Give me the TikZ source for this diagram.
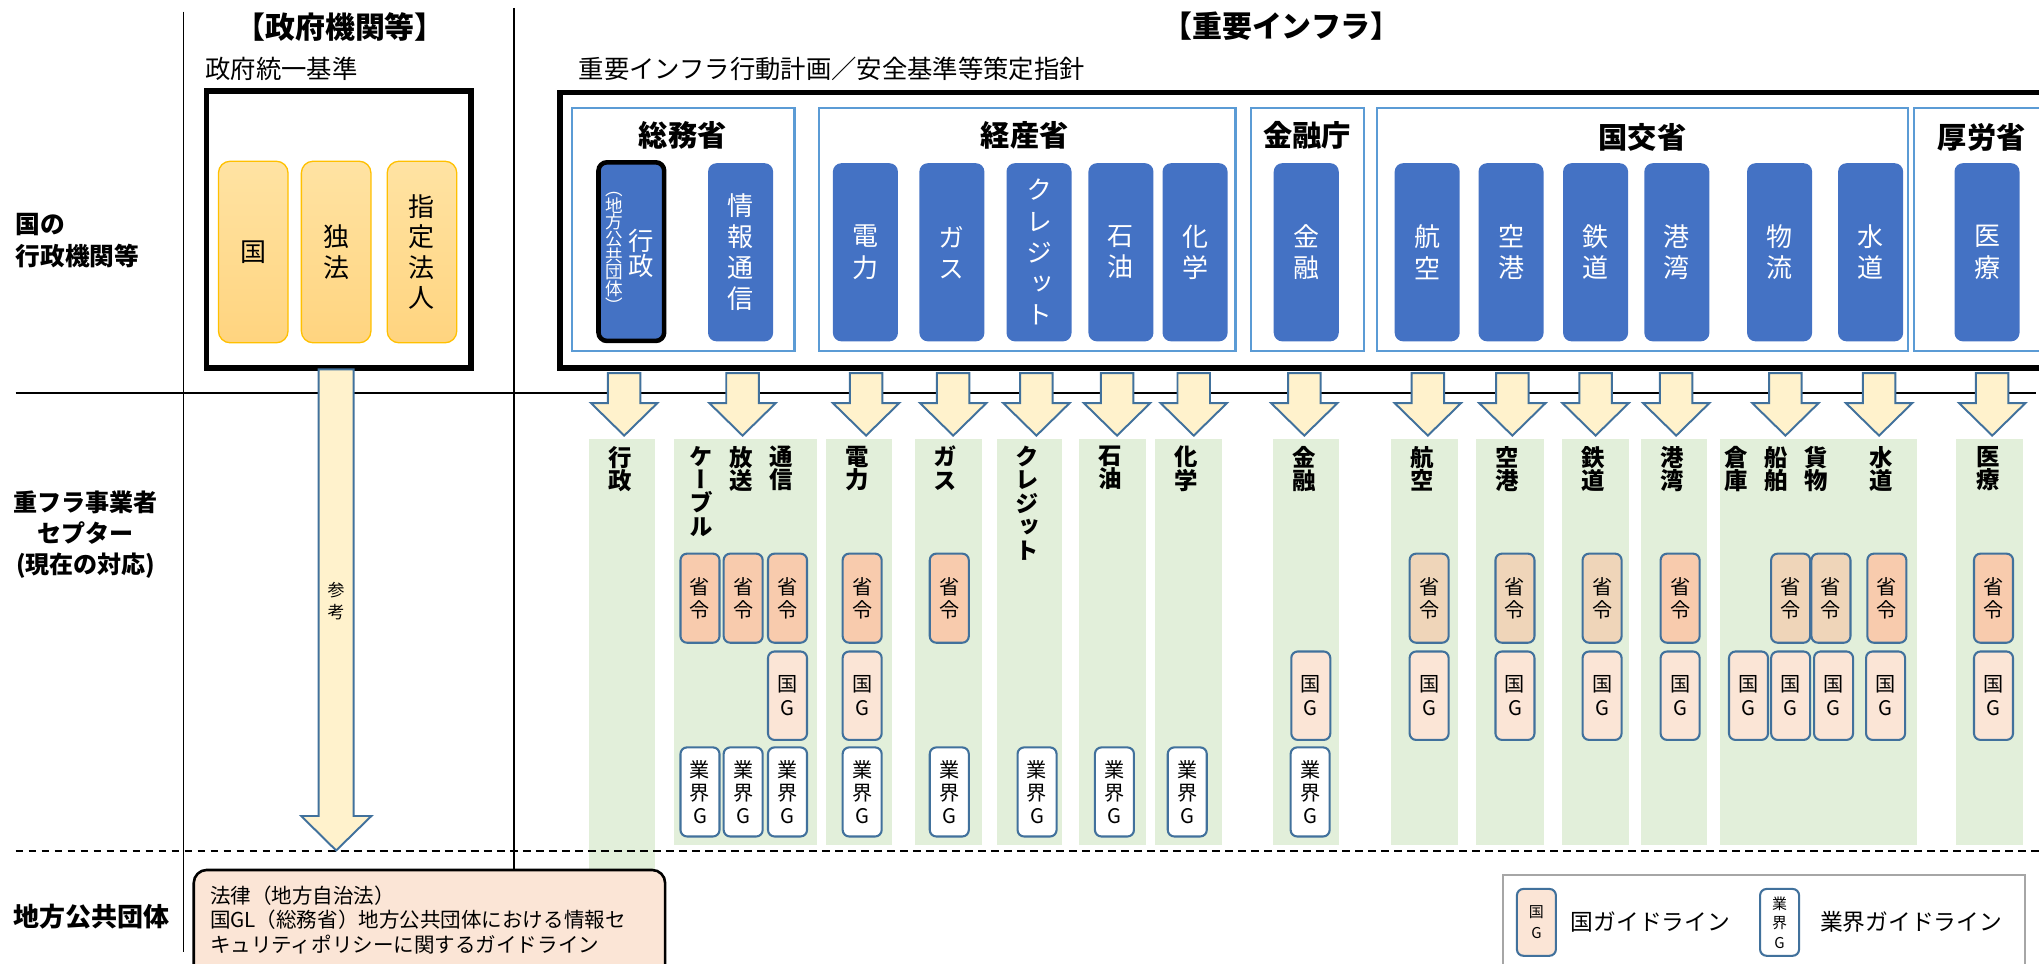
\documentclass[tikz,border=0pt]{standalone}
\usepackage{fontspec}
\setmainfont{Noto Sans CJK JP}
\newfontfamily\vjp{Noto Sans CJK JP}[RawFeature=+vert]
\definecolor{blueC}{HTML}{4472C4}
\definecolor{minC}{HTML}{5B9BD5}
\definecolor{arrF}{HTML}{FFF2CC}
\definecolor{arrD}{HTML}{41719C}
\definecolor{grnC}{HTML}{E2EFDA}
\definecolor{shoC}{HTML}{F8CBAD}
\definecolor{shoT}{HTML}{EFD5B9}
\definecolor{kokC}{HTML}{FBE5D6}
\definecolor{orgT}{HTML}{FFE3A3}
\definecolor{orgB}{HTML}{FFD47F}
\definecolor{orgD}{HTML}{FFC000}
\definecolor{legD}{HTML}{A6A6A6}
\newcommand\gcol[2]{\fill[grnC] (#1,337.5) rectangle (#2,650);}
\newcommand\barr[1]{\draw[blockarr] ({#1-12.5},287) -- ({#1+12.5},287) -- ({#1+12.5},310) -- ({#1+25.5},310) -- (#1,335) -- ({#1-25.5},310) -- ({#1-12.5},310) -- cycle;}
\begin{document}
\begin{tikzpicture}[x=1pt,y=-1pt,
  every node/.style={inner sep=0pt, outer sep=0pt},
  bluebox/.style={fill=blueC, rounded corners=6.5pt, minimum width=50pt, minimum height=137pt, text=white, align=center, font=\vjp\fontsize{20}{24}\selectfont},
  minbox/.style={draw=minC, line width=1.8pt, minimum height=187pt},
  orgbox/.style={top color=orgT, bottom color=orgB, draw=orgD, line width=1pt, rounded corners=9pt, minimum width=53.5pt, minimum height=139.6pt, align=center, font=\vjp\fontsize{20}{23.5}\selectfont},
  blockarr/.style={fill=arrF, draw=arrD, line width=1.5pt, line join=miter},
  sbox/.style={draw=arrD, line width=1.6pt, rounded corners=5pt, minimum width=30pt, align=center, font=\fontsize{15.5}{18}\selectfont},
  shorei/.style={sbox, fill=shoC, minimum height=68.5pt, font=\fontsize{15.5}{17.3}\selectfont},
  shoreiT/.style={shorei, fill=shoT},
  kokug/.style={sbox, fill=kokC, minimum height=68pt, font=\fontsize{15.5}{18.3}\selectfont},
  gyog/.style={sbox, fill=white, minimum height=68.5pt, font=\fontsize{15.5}{17.8}\selectfont},
  clab/.style={anchor=north, align=center, font=\vjp\bfseries\fontsize{18}{18}\selectfont},
  mtitle/.style={font=\bfseries\fontsize{22.5}{24}\selectfont},
  head/.style={font=\bfseries\fontsize{23}{26}\selectfont},
  sub/.style={anchor=west, font=\fontsize{19.5}{22}\selectfont},
  rowlab/.style={font=\bfseries\fontsize{19}{24.5}\selectfont}
]
\useasboundingbox (0,0) rectangle (1568,741);
\clip (0,0) rectangle (1568,741);

% green columns
\fill[grnC] (453,337.5) rectangle (504,668);
\gcol{518}{628}\gcol{635}{686}\gcol{704}{755}\gcol{767}{817}\gcol{830}{881}\gcol{888}{940}
\gcol{979}{1030}\gcol{1070}{1121}\gcol{1135}{1187}\gcol{1201}{1253}\gcol{1262}{1313}
\gcol{1323}{1474}\gcol{1504}{1556}

% grid lines
\draw[line width=1.3pt] (141,9) -- (141,732);
\draw[line width=1.3pt] (395.5,6) -- (395.5,669);
\draw[line width=1.3pt] (12,302) -- (1566,302);
\draw[line width=1.5pt, dash pattern=on 6pt off 4pt] (12,654.5) -- (1568,654.5);

% headings
\node[head] (hGov) at (261.5,20.5) {【政府機関等】};
\node[head] (hInfra) at (985.5,20) {【重要インフラ】};
\node[sub] (sGov) at (158,52.6) {政府統一基準};
\node[sub] (sInfra) at (445,52.6) {重要インフラ行動計画／安全基準等策定指針};

% row labels
\node[rowlab, anchor=west, align=left] (rNat) at (12,185) {国の\\行政機関等};
\node[rowlab, align=center, font=\bfseries\fontsize{18.5}{24}\selectfont] (rSec) at (66,411) {重フラ事業者\\セプター\\(現在の対応)};
\node[rowlab, anchor=west, font=\bfseries\fontsize{20}{24}\selectfont] (rLoc) at (10,705) {地方公共団体};

% government box
\draw[line width=4.5pt] (158.8,70) rectangle (362.3,283);
\node[orgbox] (oKuni) at (194.75,193.8) {国};
\node[orgbox] (oDoku) at (258.5,193.8) {独\\法};
\node[orgbox] (oShitei) at (324.5,193.8) {指\\定\\法\\人};

% infra big box
\draw[line width=4pt] (430.7,71) rectangle (1600,283);
\node[minbox, minimum width=171pt] (mSomu) at (525.5,176.5) {};
\node[minbox, minimum width=320pt] (mKeisan) at (790,176.5) {};
\node[minbox, minimum width=87pt] (mKinyu) at (1005.5,176.5) {};
\node[minbox, minimum width=408pt] (mKokko) at (1263,176.5) {};
\node[minbox, minimum width=128pt] (mKoro) at (1536,176.5) {};
\node[mtitle] (tSomu) at (525,104) {総務省};
\node[mtitle] (tKeisan) at (788,104) {経産省};
\node[mtitle] (tKinyu) at (1005,104) {金融庁};
\node[mtitle] (tKokko) at (1263,106) {国交省};
\node[mtitle] (tKoro) at (1524,106) {厚労省};

% blue boxes
\node[bluebox, draw=black, line width=3.5pt, minimum width=50.5pt, minimum height=137.4pt] (bGyosei) at (485.5,193.5) {};
\node[text=white, align=center, font=\vjp\fontsize{19.5}{19.2}\selectfont] (bGyoseiT) at (493,195) {行\\政};
\node[text=white, align=center, font=\vjp\fontsize{13.5}{12.8}\selectfont] (bChihoT) at (472,194) {（\\地\\方\\公\\共\\団\\体\\）};
\node[bluebox] (bJoho) at (569.5,194) {情\\報\\通\\信};
\node[bluebox] (bDenryoku) at (665.5,194) {電\\力};
\node[bluebox] (bGas) at (732,194) {ガ\\ス};
\node[bluebox] (bCredit) at (799,194) {ク\\レ\\ジ\\ッ\\ト};
\node[bluebox] (bSekiyu) at (862,194) {石\\油};
\node[bluebox] (bKagaku) at (919,194) {化\\学};
\node[bluebox] (bKinyu) at (1004.5,194) {金\\融};
\node[bluebox] (bKoku) at (1097.5,194) {航\\空};
\node[bluebox] (bKuko) at (1162,194) {空\\港};
\node[bluebox] (bTetsudo) at (1227,194) {鉄\\道};
\node[bluebox] (bKowan) at (1289.5,194) {港\\湾};
\node[bluebox] (bButsuryu) at (1368.5,194) {物\\流};
\node[bluebox] (bSuido) at (1438.5,194) {水\\道};
\node[bluebox] (bIryo) at (1528,194) {医\\療};

% block arrows
\barr{480}\barr{571}\barr{666}\barr{733}\barr{797}\barr{859}\barr{918}\barr{1003}
\barr{1098}\barr{1163}\barr{1227}\barr{1289}\barr{1373}\barr{1445}\barr{1532}
\draw[blockarr] (245,284) -- (272,284) -- (272,627.5) -- (285.6,627.5) -- (258.5,654) -- (231.6,627.5) -- (245,627.5) -- cycle;
\node[align=center, font=\fontsize{13}{17}\selectfont] (sanko) at (258.5,462.5) {参\\考};

% column labels
\node[clab] (lGyosei) at (477,343) {行\\政};
\node[clab] (lCable) at (539,343) {ケ\\ー\\ブ\\ル};
\node[clab] (lHoso) at (570,343) {放\\送};
\node[clab] (lTsushin) at (601,343) {通\\信};
\node[clab] (lDenryoku) at (659,343) {電\\力};
\node[clab] (lGas) at (727,343) {ガ\\ス};
\node[clab] (lCredit) at (790,343) {ク\\レ\\ジ\\ッ\\ト};
\node[clab] (lSekiyu) at (853.5,343) {石\\油};
\node[clab] (lKagaku) at (912,343) {化\\学};
\node[clab] (lKinyu) at (1003,343) {金\\融};
\node[clab] (lKoku) at (1094,343) {航\\空};
\node[clab] (lKuko) at (1159,343) {空\\港};
\node[clab] (lTetsudo) at (1225,343) {鉄\\道};
\node[clab] (lKowan) at (1286,343) {港\\湾};
\node[clab] (lSoko) at (1335,343) {倉\\庫};
\node[clab] (lSenpaku) at (1366,343) {船\\舶};
\node[clab] (lKamotsu) at (1397,343) {貨\\物};
\node[clab] (lSuido) at (1447,343) {水\\道};
\node[clab] (lIryo) at (1529,343) {医\\療};

% 省令 boxes
\node[shorei] (sCable) at (538.3,460) {省\\令};
\node[shorei] (sHoso) at (571.5,460) {省\\令};
\node[shorei] (sTsushin) at (605.6,460) {省\\令};
\node[shorei] (sDenryoku) at (663,460) {省\\令};
\node[shorei] (sGas) at (730,460) {省\\令};
\node[shoreiT] (sKoku) at (1099,460) {省\\令};
\node[shoreiT] (sKuko) at (1165,460) {省\\令};
\node[shoreiT] (sTetsudo) at (1232,460) {省\\令};
\node[shorei] (sKowan) at (1292,460) {省\\令};
\node[shoreiT] (sSenpaku) at (1377,460) {省\\令};
\node[shoreiT] (sKamotsu) at (1408,460) {省\\令};
\node[shorei] (sSuido) at (1451,460) {省\\令};
\node[shorei] (sIryo) at (1533,460) {省\\令};

% 国G boxes
\node[kokug] (kTsushin) at (605.6,535) {国\\G};
\node[kokug] (kDenryoku) at (663,535) {国\\G};
\node[kokug] (kKinyu) at (1008,535) {国\\G};
\node[kokug] (kKoku) at (1099,535) {国\\G};
\node[kokug] (kKuko) at (1165,535) {国\\G};
\node[kokug] (kTetsudo) at (1232,535) {国\\G};
\node[kokug] (kKowan) at (1292,535) {国\\G};
\node[kokug] (kSoko) at (1344.6,535) {国\\G};
\node[kokug] (kSenpaku) at (1377,535) {国\\G};
\node[kokug] (kKamotsu) at (1410,535) {国\\G};
\node[kokug] (kSuido) at (1450,535) {国\\G};
\node[kokug] (kIryo) at (1533,535) {国\\G};

% 業界G boxes
\node[gyog] (gCable) at (538.3,609) {業\\界\\G};
\node[gyog] (gHoso) at (571.5,609) {業\\界\\G};
\node[gyog] (gTsushin) at (605.6,609) {業\\界\\G};
\node[gyog] (gDenryoku) at (663,609) {業\\界\\G};
\node[gyog] (gGas) at (730,609) {業\\界\\G};
\node[gyog] (gCredit) at (797.5,609) {業\\界\\G};
\node[gyog] (gSekiyu) at (857,609) {業\\界\\G};
\node[gyog] (gKagaku) at (913,609) {業\\界\\G};
\node[gyog] (gKinyu) at (1007.5,609) {業\\界\\G};

% local government box
\node[draw=black, fill=kokC, line width=2pt, rounded corners=10pt, minimum width=362.5pt, minimum height=91pt] (local) at (330.25,714.5) {};
\node[anchor=north west, align=left, font=\fontsize{15.8}{19}\selectfont] (localT) at (161.5,681) {法律（地方自治法）\\国GL（総務省）地方公共団体における情報セ\\キュリティポリシーに関するガイドライン};

% legend
\node[draw=legD, fill=white, line width=1.5pt, minimum width=401.5pt, minimum height=87pt] (legend) at (1356.25,716.5) {};
\node[sbox, fill=kokC, minimum height=51.4pt, font=\fontsize{11.5}{16}\selectfont] (legK) at (1181.5,709.3) {国\\G};
\node[anchor=west, font=\fontsize{17.5}{20}\selectfont] (legKT) at (1208,709) {国ガイドライン};
\node[sbox, fill=white, minimum height=51.4pt, font=\fontsize{11.5}{15}\selectfont] (legG) at (1368.5,709.3) {業\\界\\G};
\node[anchor=west, font=\fontsize{17.5}{20}\selectfont] (legGT) at (1399.6,709) {業界ガイドライン};
\end{tikzpicture}
\end{document}
